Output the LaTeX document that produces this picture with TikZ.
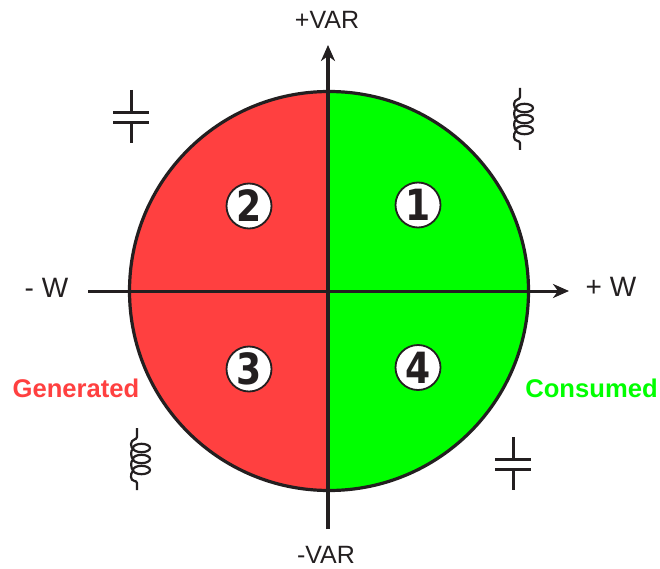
\documentclass[tikz,border=0pt]{standalone}
\usepackage{fontspec}
\setmainfont{Liberation Sans}
\newfontfamily\digitfont[FakeStretch=0.84]{DejaVu Sans}
\usetikzlibrary{arrows.meta}
\definecolor{ink}{HTML}{231F20}
\definecolor{genred}{HTML}{FF4040}
\definecolor{conGreen}{HTML}{00FF00}
\tikzset{
  x=1pt,y=-1pt,
  headtip/.style={-{Stealth[length=16pt,width=14pt,inset=5pt]}},
  xaxisline/.style={draw=ink,line width=3pt,headtip},
  yaxisline/.style={draw=ink,line width=4pt,headtip},
  ringline/.style={draw=ink,line width=3.2pt},
  badge/.style={circle,draw=ink,line width=1.8pt,fill=white,minimum size=45pt,inner sep=0pt,text=ink,font=\digitfont\bfseries\fontsize{43pt}{43pt}\selectfont},
  axislabel/.style={text=ink,font=\fontsize{25pt}{26pt}\selectfont,inner sep=0pt},
  wlabel/.style={text=ink,font=\fontsize{28pt}{28pt}\selectfont,inner sep=0pt},
  sidelabel/.style={font=\bfseries\fontsize{25.6pt}{26pt}\selectfont,inner sep=0pt},
  symline/.style={draw=ink,line width=3pt},
  coilline/.style={draw=ink,line width=2.2pt},
  inductor/.pic={
    \draw[coilline] (0,0) -- (0,9) .. controls (0,12) and (-6,11) .. (-6,16)
      .. controls (-6,19) and (-5,20) .. (-4,21) .. controls (-7,23) and (-6,29) .. (-4,31.5)
      .. controls (-7,34) and (-6,40) .. (-4,42.5) .. controls (-6,45) and (-6,47) .. (-6,49)
      .. controls (-6,54) and (0,52) .. (0,55) -- (0,62);
    \foreach \cy in {20,31,42}
      \draw[coilline] (4.5,\cy) ellipse [x radius=8.5pt,y radius=4.2pt];
  },
  capacitorA/.pic={
    \draw[symline] (0,0) -- (0,22.5);
    \draw[symline] (0,32.5) -- (0,53);
    \draw[symline] (-18,22.5) -- (18,22.5);
    \draw[symline] (-18,32.5) -- (18,32.5);
  }
}
\begin{document}
\begin{tikzpicture}
\useasboundingbox (0,0) rectangle (660,569);
\coordinate (c) at (329,291);
\coordinate (xstart) at (88,291);
\coordinate (xend) at (569,291);
\coordinate (ystart) at (328,529);
\coordinate (yend) at (328,45);
\fill[genred] (c) circle[radius=199.5pt];
\begin{scope}
\clip (328,80) rectangle (540,500);
\fill[conGreen] (c) circle[radius=199.5pt];
\end{scope}
\draw[ringline] (c) circle[radius=199.5pt];
\draw[xaxisline] (xstart) -- (xend);
\draw[yaxisline] (ystart) -- (yend);
\node[badge] (q1) at (418,205) {1};
\node[badge] (q2) at (249,206) {2};
\node[badge] (q3) at (249,369) {3};
\node[badge] (q4) at (418,367.5) {4};
\node[axislabel] (pv) at (327,20) {+VAR};
\node[axislabel] (mv) at (326,555) {-VAR};
\node[wlabel] (mw) at (46.5,288) {- W};
\node[wlabel] (pw) at (611,287) {+ W};
\node[sidelabel,text=genred] (gen) at (76,388) {Generated};
\node[sidelabel,text=conGreen] (con) at (591.5,388) {Consumed};
\pic at (520,88) {inductor};
\pic at (137,428) {inductor};
\pic at (131,90) {capacitorA};
\pic at (513,437) {capacitorA};
\end{tikzpicture}
\end{document}
